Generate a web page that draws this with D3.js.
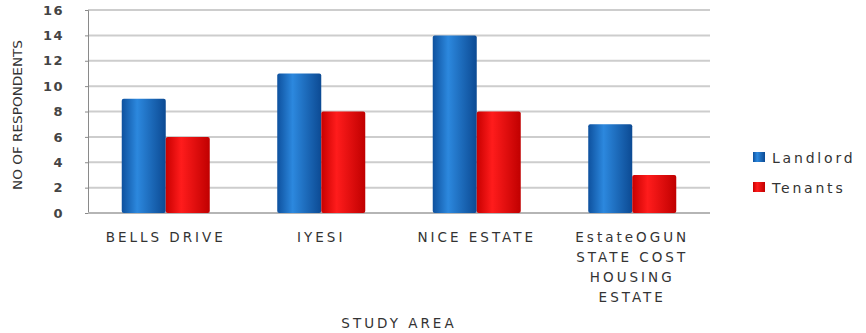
<!DOCTYPE html>
<html>
<head>
<meta charset="utf-8">
<script src="https://cdn.jsdelivr.net/npm/d3@7"></script>
<style>
  body { margin: 0; background: #fff; }
  text { font-family: "DejaVu Sans", Verdana, sans-serif; }
</style>
</head>
<body>
<svg id="chart" width="866" height="333"></svg>
<script>
// data
const categories = ["BELLS DRIVE", "IYESI", "NICE ESTATE", "EstateOGUN STATE COST HOUSING ESTATE"];
const categoryLines = [["BELLS DRIVE"], ["IYESI"], ["NICE ESTATE"], ["EstateOGUN", "STATE COST", "HOUSING", "ESTATE"]];
const seriesNames = ["Landlord", "Tenants"];
const landlord = [9, 11, 14, 7];
const tenants = [6, 8, 8, 3];
const yTicks = [0, 2, 4, 6, 8, 10, 12, 14, 16];

const colors = {Landlord: ["#0e519e", "#2c88de", "#0c4a93"], Tenants: ["#c80000", "#ff1c1c", "#c00000"]};

const svg = d3.select("#chart");
const plotLeft = 88, plotRight = 710, plotTop = 10, plotBottom = 213;

const x0 = d3.scaleBand().domain(categories).range([plotLeft, plotRight])
    .paddingInner(0.434).paddingOuter(0.217);
const x1 = d3.scaleBand().domain(seriesNames).range([0, x0.bandwidth()]);
const y = d3.scaleLinear().domain([0, 16]).range([plotBottom, plotTop]);

// bar gradients (cylinder-like shading)
const defs = svg.append("defs");
seriesNames.forEach(name => {
    const g = defs.append("linearGradient").attr("id", "grad-" + name)
        .attr("x1", "0%").attr("x2", "100%").attr("y1", "0%").attr("y2", "0%");
    g.append("stop").attr("offset", "0%").attr("stop-color", colors[name][0]);
    g.append("stop").attr("offset", "35%").attr("stop-color", colors[name][1]);
    g.append("stop").attr("offset", "100%").attr("stop-color", colors[name][2]);
});

// gridlines
svg.append("g")
    .selectAll("line")
    .data(yTicks.slice(1))
    .join("line")
    .attr("x1", plotLeft).attr("x2", plotRight)
    .attr("y1", d => y(d)).attr("y2", d => y(d))
    .attr("stroke", "#cdcdcd")
    .attr("stroke-width", 2);

// y axis
const yAxis = svg.append("g")
    .attr("transform", `translate(${plotLeft},0)`)
    .call(d3.axisLeft(y).tickValues(yTicks).tickSize(3).tickPadding(21));
yAxis.select(".domain").attr("stroke", "#8a8a8a");
yAxis.selectAll(".tick line").attr("stroke", "#8a8a8a");
yAxis.selectAll(".tick text")
    .attr("fill", "#444")
    .style("font-size", "13px")
    .style("font-weight", "bold")
    .style("letter-spacing", "1.5px");

// baseline
svg.append("line")
    .attr("x1", plotLeft).attr("x2", plotRight)
    .attr("y1", y(0)).attr("y2", y(0))
    .attr("stroke", "#b5b5b5").attr("stroke-width", 2);

// bars
const rows = categories.map((c, i) => ({cat: c, values: [
    {name: "Landlord", value: landlord[i]},
    {name: "Tenants", value: tenants[i]}
]}));

svg.append("g")
    .selectAll("g")
    .data(rows)
    .join("g")
    .attr("transform", d => `translate(${x0(d.cat)},0)`)
    .selectAll("rect")
    .data(d => d.values)
    .join("rect")
    .attr("x", d => x1(d.name))
    .attr("y", d => y(d.value))
    .attr("width", x1.bandwidth())
    .attr("height", d => y(0) - y(d.value))
    .attr("rx", 2)
    .attr("fill", d => `url(#grad-${d.name})`);

// category labels
const labels = svg.append("g")
    .selectAll("text")
    .data(categories)
    .join("text")
    .attr("x", d => x0(d) + x0.bandwidth() / 2)
    .attr("y", 242)
    .attr("text-anchor", "middle")
    .attr("fill", "#333")
    .style("font-size", "13.5px")
    .style("letter-spacing", "3px");
labels.selectAll("tspan")
    .data((d, i) => categoryLines[i])
    .join("tspan")
    .attr("x", function () { return d3.select(this.parentNode).attr("x"); })
    .attr("dy", (d, i) => i === 0 ? 0 : 20)
    .text(d => d);

// axis titles
svg.append("text")
    .attr("x", (plotLeft + plotRight) / 2)
    .attr("y", 328)
    .attr("text-anchor", "middle")
    .attr("fill", "#333")
    .style("font-size", "13.5px")
    .style("letter-spacing", "3px")
    .text("STUDY AREA");

svg.append("text")
    .attr("transform", "translate(22,115) rotate(-90)")
    .attr("text-anchor", "middle")
    .attr("fill", "#333")
    .attr("textLength", 150)
    .attr("lengthAdjust", "spacingAndGlyphs")
    .style("font-size", "13px")
    .text("NO OF RESPONDENTS");

// legend
const legend = svg.append("g")
    .selectAll("g")
    .data(seriesNames)
    .join("g")
    .attr("transform", (d, i) => `translate(753,${152 + i * 30})`);
legend.append("rect")
    .attr("width", 12).attr("height", 10)
    .attr("fill", d => `url(#grad-${d})`);
legend.append("text")
    .attr("x", 19).attr("y", 10.5)
    .attr("fill", "#333")
    .style("font-size", "14px")
    .style("letter-spacing", "2.8px")
    .text(d => d);
</script>
</body>
</html>
